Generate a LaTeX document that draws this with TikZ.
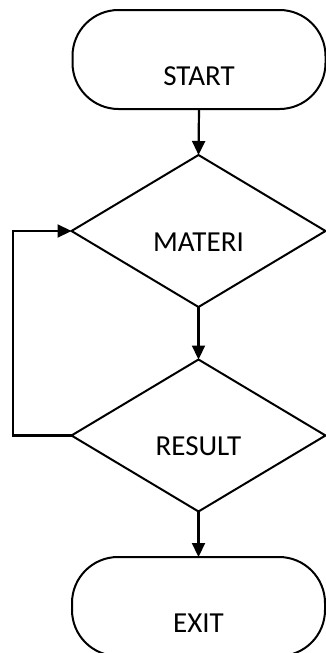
\documentclass[tikz,border=0pt]{standalone}
\usepackage{fontspec}
\setmainfont{Carlito}
\usetikzlibrary{shapes.geometric,arrows.meta}
\begin{document}
\begin{tikzpicture}[x=1pt,y=-1pt,
  every node/.style={font=\fontsize{29}{31}\selectfont},
  lbl/.style={font=\fontsize{29}{31}\selectfont},
  term/.style={draw,line width=2pt,rectangle,rounded corners=46pt,minimum width=253pt,minimum height=99pt,inner sep=0pt,outer sep=0pt},
  decision/.style={draw,line width=2pt,diamond,minimum width=254pt,minimum height=152pt,inner sep=0pt,outer sep=0pt},
  flow/.style={line width=2.2pt,-{Triangle[width=13pt,length=14pt]}}
]
\useasboundingbox (0,0) rectangle (326,653);
\node[term,label={[lbl,yshift=-17pt]center:START}] (start) at (199,59.5) {};
\node[decision,label={[lbl,yshift=-11pt]center:MATERI}] (materi) at (198.5,231) {};
\node[decision,label={[lbl,yshift=-11pt]center:RESULT}] (result) at (198.5,435.5) {};
\node[term,label={[lbl,yshift=-17pt]center:EXIT}] (exit) at (198.5,606.5) {};
\coordinate (lb) at (13,435.5);
\coordinate (lt) at (13,231);
\draw[flow] (start.south) -- (materi.north);
\draw[flow] (materi.south) -- (result.north);
\draw[flow] (result.south) -- (exit.north);
\draw[flow] (result.west) -- (lb) -- (lt) -- (materi.west);
\end{tikzpicture}
\end{document}
